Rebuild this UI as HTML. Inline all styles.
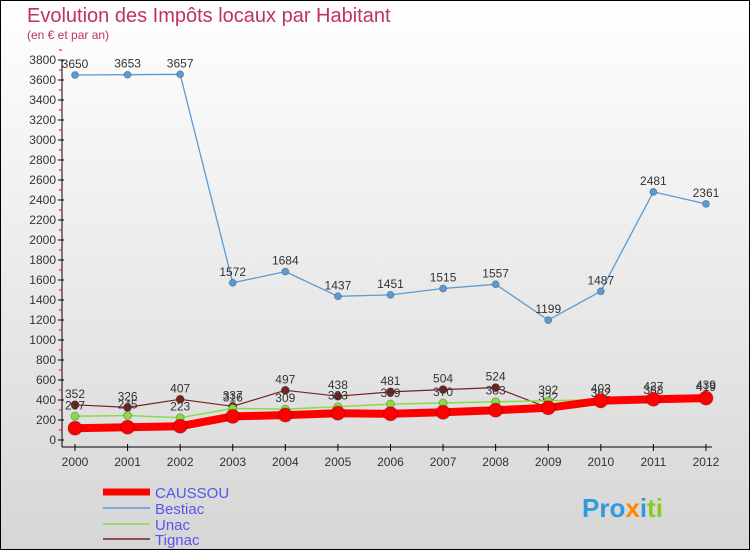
<!DOCTYPE html>
<html><head><meta charset="utf-8"><style>
body{margin:0;width:750px;height:550px;overflow:hidden;font-family:"Liberation Sans",sans-serif}
svg text{font-family:"Liberation Sans","DejaVu Sans",sans-serif}
</style></head><body>
<svg id="c" width="750" height="550" xmlns="http://www.w3.org/2000/svg">
<defs><linearGradient id="bg" x1="0" y1="0" x2="0" y2="1"><stop offset="0" stop-color="#ffffff"/><stop offset="1" stop-color="#d6d6d6"/></linearGradient></defs>
<rect x="0.5" y="0.5" width="749" height="549" fill="url(#bg)" stroke="#000"/>
<text x="27" y="22" font-size="20" fill="#c0306a">Evolution des Impôts locaux par Habitant</text>
<text x="27" y="39" font-size="12" fill="#c0306a">(en € et par an)</text>
<g id="axes"></g><g id="series"></g>
<g>
<line x1="103" y1="492" x2="150" y2="492" stroke="#f00" stroke-width="7"/>
<text x="155" y="498" font-size="15" fill="#5555ee">CAUSSOU</text>
<line x1="103" y1="508" x2="150" y2="508" stroke="#5b9bd5" stroke-width="1.5"/>
<text x="155" y="514" font-size="15" fill="#5555ee">Bestiac</text>
<line x1="103" y1="524" x2="150" y2="524" stroke="#88dd44" stroke-width="1.5"/>
<text x="155" y="530" font-size="15" fill="#5555ee">Unac</text>
<line x1="103" y1="539" x2="150" y2="539" stroke="#772222" stroke-width="1.5"/>
<text x="155" y="545" font-size="15" fill="#5555ee">Tignac</text>
</g>
<text x="582" y="517" font-size="26" font-weight="bold"><tspan fill="#3399dd">Pro</tspan><tspan fill="#ff8800">x</tspan><tspan fill="#3399dd">i</tspan><tspan fill="#88cc22">ti</tspan></text>
</svg>
<script>
const years=[2000,2001,2002,2003,2004,2005,2006,2007,2008,2009,2010,2011,2012];
const caussou=[118,128,138,236,249,268,262,277,298,322,392,408,419];
const bestiac=[3650,3653,3657,1572,1684,1437,1451,1515,1557,1199,1487,2481,2361];
const unac=[237,245,223,316,309,333,359,370,383,392,403,427,419];
const tignac=[352,326,407,337,497,438,481,504,524,322,362,388,439];
const yTicks=[0,200,400,600,800,1000,1200,1400,1600,1800,2000,2200,2400,2600,2800,3000,3200,3400,3600,3800];
const NS="http://www.w3.org/2000/svg";
const X=i=>75+i*52.58, Y=v=>440-v*0.1;
function mk(t,a,p){const e=document.createElementNS(NS,t);for(const k in a)e.setAttribute(k,a[k]);p.appendChild(e);return e;}
const ax=document.getElementById('axes'), sg=document.getElementById('series');
let l=mk('line',{x1:62,y1:60,x2:62,y2:447,stroke:'#000'},ax);


l=mk('line',{x1:62,y1:447,x2:712,y2:447,stroke:'#000'},ax);


yTicks.forEach(v=>{
 const t=mk('line',{x1:58,y1:Y(v),x2:64,y2:Y(v),stroke:'#000'},ax);
 
 
 const m=mk('line',{x1:59,y1:Y(v+100),x2:62,y2:Y(v+100),stroke:'#e00'},ax);
 
 
 const tx=mk('text',{x:56,y:Y(v)+4,'font-size':12,'text-anchor':'end',fill:'#333'},ax);
 tx.textContent=v;
 
 
});
years.forEach((yr,i)=>{
 const t=mk('line',{x1:X(i),y1:444,x2:X(i),y2:451,stroke:'#000'},ax);
 
 
 const tx=mk('text',{x:X(i),y:466,'font-size':12,'text-anchor':'middle',fill:'#333'},ax);
 tx.textContent=yr;
 
 
});
function series(name,vals,color,w,r,labels){
 const g=mk('g',{},sg);
 
 
 const p=mk('polyline',{points:vals.map((v,i)=>X(i)+','+Y(v)).join(' '),fill:'none',stroke:color,'stroke-width':w,'stroke-linejoin':'round'},g);
 
 
 vals.forEach((v,i)=>{
  const c=mk('circle',{cx:X(i),cy:Y(v),r:r,fill:color,stroke:'rgba(0,0,0,0.25)'},g);
  
  
  if(labels){
   const t=mk('text',{x:X(i),y:Y(v)-7,'font-size':12,'text-anchor':'middle',fill:'#333'},g);
   t.textContent=v;
   
   
  }
 });
}
series('tignac',tignac,'#772222',1.2,4,true);
series('unac',unac,'#88dd44',1.5,4,true);
series('caussou',caussou,'#ff0000',8,7,false);
series('bestiac',bestiac,'#5b9bd5',1.3,3.5,true);
</script>
</body></html>
